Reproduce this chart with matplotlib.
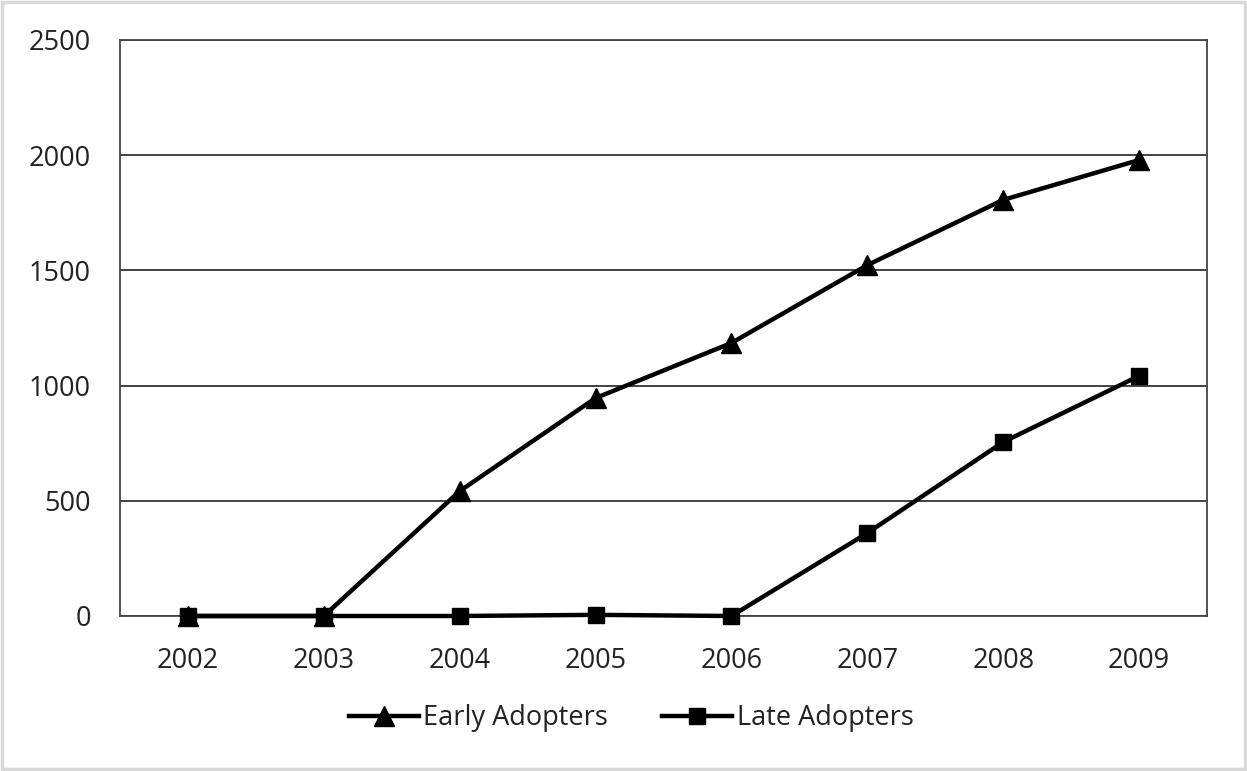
import matplotlib
matplotlib.use("Agg")
import matplotlib.pyplot as plt
from matplotlib.patches import Rectangle

years = ["2002", "2003", "2004", "2005", "2006", "2007", "2008", "2009"]
early_adopters = [0, 0, 542, 946, 1185, 1523, 1806, 1979]
late_adopters = [0, 0, 0, 5, 0, 360, 755, 1042]
y_ticks = [0, 500, 1000, 1500, 2000, 2500]

plt.rcParams['font.family'] = ['Open Sans', 'DejaVu Sans']

W, H = 1247, 771
fig = plt.figure(figsize=(W / 100, H / 100), dpi=100)
fig.patches.append(Rectangle((0.002, 0.003), 0.996, 0.994, transform=fig.transFigure,
                             fill=False, edgecolor='#d9d9d9', linewidth=2.5))

ax = fig.add_axes([120 / W, 1 - 616 / H, (1207 - 120) / W, (616 - 40) / H])
x = list(range(len(years)))
ax.plot(x, early_adopters, color='black', linewidth=3.2, marker='^', markersize=14,
        label='Early Adopters', zorder=3, clip_on=False)
ax.plot(x, late_adopters, color='black', linewidth=3.2, marker='s', markersize=12,
        label='Late Adopters', zorder=3, clip_on=False)

ax.set_xlim(-0.5, len(years) - 0.5)
ax.set_ylim(0, 2500)
ax.set_yticks(y_ticks)
ax.set_yticklabels([str(v) for v in y_ticks])
ax.set_xticks(x)
ax.set_xticklabels(years)
ax.tick_params(axis='both', length=0, labelsize=19.5, colors='#222222')
ax.tick_params(axis='x', pad=22)
ax.tick_params(axis='y', pad=21)
ax.grid(axis='y', color='#333333', linewidth=1.3, zorder=1)
for s in ax.spines.values():
    s.set_color('#444444')
    s.set_linewidth(1.3)

leg = fig.legend(handles=ax.get_lines(), loc='center', bbox_to_anchor=(631 / W, 1 - 718 / H),
                 ncol=2, frameon=False, fontsize=19.5, handlelength=2.6,
                 handletextpad=0.15, columnspacing=2.0)
for t in leg.get_texts():
    t.set_color('#222222')

fig.savefig('out.png', dpi=100)
